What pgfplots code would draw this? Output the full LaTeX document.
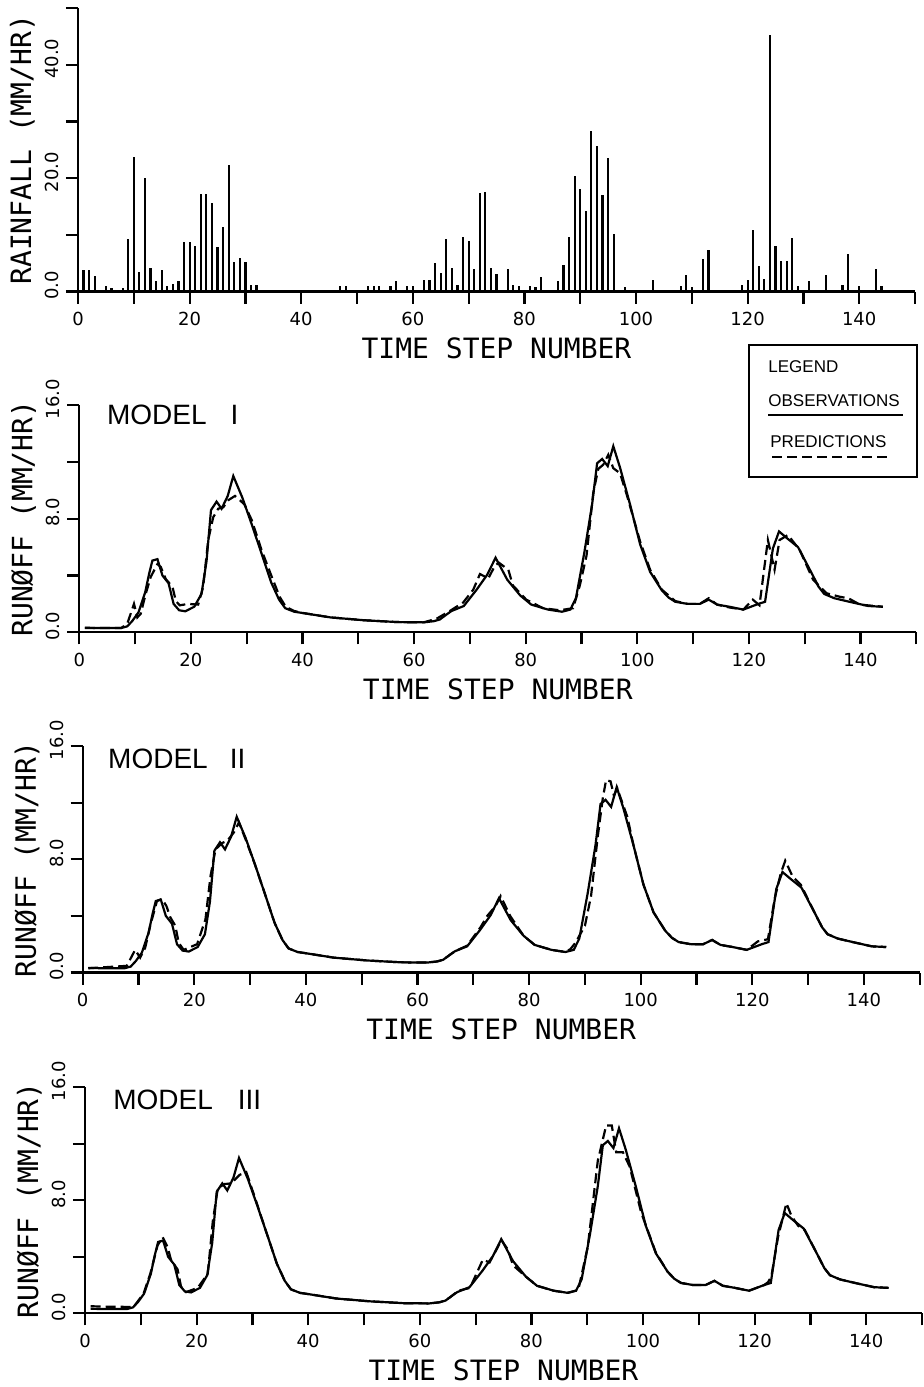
\documentclass[border=0pt]{standalone}
\usepackage{fontspec}
\setmainfont{DejaVu Sans Mono}
\newfontfamily\lab{Liberation Sans}
\newfontfamily\tickfont{DejaVu Sans}
\usepackage{pgfplots}
\usepackage{pgfplotstable}
\pgfplotsset{compat=1.18}

% rainfall, mm/hr per time step
\pgfplotstableread{
x y
1 3.8
2 3.8
3 2.8
5 1.0
6 0.6
7 0.3
8 0.6
9 9.3
10 23.7
11 3.5
12 20.0
13 4.1
14 1.9
15 3.8
16 1.0
17 1.4
18 1.9
19 8.8
20 8.8
21 8.1
22 17.2
23 17.2
24 15.6
25 7.8
26 11.4
27 22.3
28 5.2
29 5.9
30 5.2
31 1.1
32 1.2
47 1.0
48 1.0
52 1.0
53 1.0
54 1.0
56 1.0
57 1.9
59 1.0
60 1.0
62 2.0
63 2.0
64 5.1
65 3.2
66 9.2
67 4.2
68 1.2
69 9.6
70 8.9
71 4.0
72 17.4
73 17.6
74 4.1
75 3.1
77 4.0
78 1.1
79 0.9
81 0.9
82 0.8
83 2.6
86 1.9
87 4.6
88 9.6
89 20.4
90 18.1
91 14.2
92 28.3
93 25.7
94 17.1
95 23.5
96 10.2
98 0.8
103 2.0
108 1.0
109 2.9
110 0.8
112 5.7
113 7.4
119 1.2
120 2.0
121 10.8
122 4.5
123 2.2
124 45.2
125 8.1
126 5.4
127 5.4
128 9.4
129 1.0
131 1.9
134 2.9
137 1.1
138 6.6
140 1.0
143 3.9
144 1.0
}\rain

% observed runoff
\pgfplotstableread{
x y
1 0.32
4 0.3
7.5 0.3
8.6 0.42
9.5 0.8
10.6 1.4
11.8 2.8
12.5 4.1
13.1 5.05
14.0 5.15
14.9 4.0
16.0 3.45
16.9 2.0
17.9 1.55
19.0 1.48
20.6 1.8
21.9 2.7
22.8 5.0
23.6 8.6
24.6 9.2
25.5 8.7
26.6 9.6
27.6 11.0
29.2 9.5
30.9 7.6
32.7 5.5
34.4 3.5
35.8 2.3
36.9 1.7
38.5 1.45
40.2 1.35
45 1.05
51 0.85
57 0.72
61.7 0.7
63.5 0.78
64.6 0.9
65.8 1.25
66.7 1.5
68.9 1.85
71.2 3.0
73.1 4.05
74.6 5.25
76.7 3.7
79 2.6
81 1.95
84 1.6
86.5 1.45
88 1.6
89 2.4
90.5 5.6
91.9 9.0
92.8 11.9
93.7 12.2
94.7 11.7
95.7 13.1
96.9 11.6
98.7 9.0
100.5 6.2
102.3 4.25
104.4 2.95
105.6 2.45
106.8 2.15
109 2.0
111.2 2.0
112.8 2.3
114.3 1.95
116.5 1.8
119 1.6
121.7 2.0
122.9 2.15
124.3 5.9
125.4 7.1
126.9 6.6
128.8 6.0
131.2 4.2
132.5 3.2
133.5 2.7
135.3 2.4
138 2.15
141.4 1.85
144 1.8
}\obs

% model I predictions
\pgfplotstableread{
x y
1 0.3
7.5 0.3
8.6 0.6
9.8 2.0
10.4 1.05
11.0 1.3
11.9 2.7
12.8 3.9
14.0 4.8
14.6 4.6
15.5 3.75
16.7 3.2
17.3 2.2
18.0 1.9
19.5 2.0
21.3 1.95
22.2 3.2
23.1 6.5
24.0 8.1
24.9 8.7
25.8 8.8
26.7 9.3
27.9 9.6
28.5 9.4
29.6 9.0
30.9 7.9
32.7 5.75
34.5 3.9
35.9 2.5
37.0 1.8
38.5 1.5
40.2 1.35
45 1.05
51 0.85
57 0.72
61.7 0.7
64 0.95
66.4 1.5
68.8 2.1
70.6 3.0
71.8 4.1
73.3 3.8
74.5 4.7
75.2 4.9
76.9 4.4
77.7 3.3
80.1 2.3
83.1 1.7
86.1 1.55
88.5 1.7
89.7 3.3
90.9 5.4
92.1 9.8
93.0 11.5
93.9 11.8
94.8 12.5
95.7 11.55
96.9 11.2
98.1 9.7
100.5 6.4
102.3 4.4
104.4 3.0
106.8 2.2
109 2.0
111.2 2.0
112.8 2.4
114.3 1.95
116.5 1.75
119 1.6
120.7 2.3
121.9 1.9
123.4 6.5
124.6 4.4
125.5 6.5
127 6.85
129.1 5.8
131.5 3.7
133.9 2.75
136.3 2.5
137.8 2.4
139.9 1.95
144 1.8
}\predI

% model II predictions
\pgfplotstableread{
x y
1 0.3
7.9 0.47
9.4 1.6
10.3 1.05
11.2 1.75
12.1 3.3
13.3 5.05
14.2 5.2
15.0 4.7
15.7 3.9
16.6 3.3
17.2 2.1
18.1 1.6
19.0 1.75
20.5 2.0
22.0 3.75
22.9 6.8
23.8 8.7
25.0 9.15
25.9 9.3
27.1 9.9
28.0 10.6
29.2 9.4
30.9 7.6
32.7 5.5
34.4 3.5
35.8 2.3
36.9 1.7
38.5 1.45
40.2 1.35
45 1.05
51 0.85
57 0.72
61.7 0.7
63.5 0.78
64.6 0.9
65.8 1.25
66.7 1.5
68.9 1.9
71.3 3.2
72.5 4.0
74.0 4.7
74.9 5.4
76.6 4.0
79 2.6
81 1.95
84 1.6
86.5 1.45
87.4 1.65
88.3 2.1
90.0 3.3
91.1 5.4
92.3 9.6
93.2 12.3
93.8 13.6
94.6 13.5
95.2 12.5
95.8 13.0
96.7 12.0
97.6 11.0
98.7 9.0
100.5 6.2
102.3 4.25
104.4 2.95
105.6 2.45
106.8 2.15
109 2.0
111.2 2.0
112.8 2.3
114.3 1.95
116.5 1.8
119 1.6
121 2.2
122.8 2.35
124 5.2
125.1 7.0
125.9 7.9
127.2 6.8
128.7 6.2
131.2 4.2
132.5 3.2
133.5 2.7
134.5 2.55
135.3 2.4
138 2.15
141.4 1.85
144 1.8
}\predII

% model III predictions
\pgfplotstableread{
x y
1 0.5
4 0.47
8.7 0.45
10.5 1.4
11.7 2.8
13.0 4.8
13.9 5.4
14.8 4.7
15.4 3.8
16.6 3.1
17.2 1.9
18.1 1.5
20.2 1.8
22.0 2.8
22.9 6.5
23.8 8.85
25.0 9.15
26.2 9.2
27.7 9.8
28.9 10.0
30.4 8.25
32.7 5.5
34.4 3.5
35.8 2.3
36.9 1.7
38.5 1.45
40.2 1.35
45 1.05
51 0.85
57 0.72
61.7 0.7
63.5 0.78
64.6 0.9
65.8 1.25
66.9 1.6
69 1.8
71.3 3.8
72.5 3.6
74.0 4.7
74.6 5.2
75.8 4.5
76.7 3.4
79 2.6
81 1.95
84 1.6
86.5 1.45
88.4 1.65
90.1 4.7
91.9 10.8
93.4 13.3
94.4 13.3
95.2 11.4
96.4 11.4
97.6 10.4
99.7 7.1
102.3 4.3
104.4 2.95
105.6 2.45
106.8 2.15
109 2.0
111.2 2.0
112.8 2.3
114.3 1.95
116.5 1.8
119 1.6
121.7 2.0
122.4 2.2
123.0 2.6
124.2 5.4
125.7 7.8
126.6 6.9
127.8 6.2
129 5.9
131.2 4.2
132.5 3.2
133.5 2.7
135.3 2.4
138 2.15
141.4 1.85
144 1.8
}\predIII

\pgfplotsset{
  panel/.style={
    scale only axis, width=418.5pt, anchor=south west,
    xmin=0, xmax=150,
    axis x line*=bottom, axis y line*=left,
    axis line style={-, line width=1.1pt},
    tick align=outside, major tick length=6pt,
    every tick/.style={black, line width=1.1pt},
    xtick={0,10,...,150},
    xticklabels={0,,20,,40,,60,,80,,100,,120,,140,},
    ticklabel style={font=\tickfont\fontsize{9}{10}\selectfont},
    xticklabel style={yshift=-1pt},
    yticklabel style={rotate=90, anchor=south, xshift=3pt},
    xlabel={TIME STEP NUMBER},
    label style={font=\fontsize{14}{16}\selectfont},
    xlabel style={at={(axis description cs:0.5,0)}, anchor=center, yshift=-28.5pt},
    ylabel style={at={(axis description cs:-0.0665,0.5)}, anchor=center},
    clip=false,
  },
  runoff/.style={panel, ymin=0, ymax=16,
    ytick={0,4,...,16}, yticklabels={0.0,,8.0,,16.0},
    ylabel={RUNØFF (MM/HR)}},
  obsline/.style={black, line width=1.1pt},
  predline/.style={black, line width=1.1pt, dash pattern=on 5pt off 2.5pt},
}

\begin{document}
\begin{tikzpicture}
\path[use as bounding box] (0,0) rectangle (462pt,-693.5pt);

\begin{axis}[panel, at={(39pt,-145.75pt)}, height=141.75pt,
  ymin=0, ymax=50, ytick={0,10,...,50}, yticklabels={0.0,,20.0,,40.0,},
  ylabel={RAINFALL (MM/HR)}]
\addplot[ycomb, black, line width=1.1pt] table {\rain};
\end{axis}

\begin{axis}[runoff, at={(39.65pt,-316.15pt)}, height=113.65pt]
\addplot[obsline] table {\obs};
\addplot[predline] table {\predI};
\node[anchor=base west, inner sep=0, font=\lab\fontsize{14}{16}\selectfont] at (axis cs:4.9,14.6) {MODEL\hspace{12pt}I};
\end{axis}

\begin{axis}[runoff, at={(41.35pt,-486.25pt)}, height=113.25pt]
\addplot[obsline] table {\obs};
\addplot[predline] table {\predII};
\node[anchor=base west, inner sep=0, font=\lab\fontsize{14}{16}\selectfont] at (axis cs:4.5,14.4) {MODEL\hspace{11pt}II};
\end{axis}

\begin{axis}[runoff, at={(42.5pt,-656.65pt)}, height=113pt]
\addplot[obsline] table {\obs};
\addplot[predline] table {\predIII};
\node[anchor=base west, inner sep=0, font=\lab\fontsize{14}{16}\selectfont] at (axis cs:5.0,14.45) {MODEL\hspace{12.5pt}III};
\end{axis}

% legend box, pixel coordinates of the reference
\begin{scope}[x=0.5pt, y=-0.5pt]
\draw[line width=1pt] (749,345) rectangle (917,477);
\begin{scope}[every node/.style={anchor=base west, inner sep=0, font=\lab\fontsize{8.5}{10}\selectfont}]
\node at (768,372) {LEGEND};
\node at (768,406) {OBSERVATIONS};
\node at (770,447) {PREDICTIONS};
\end{scope}
\draw[line width=1.1pt] (768,415) -- (903,415);
\draw[line width=1.1pt, dash pattern=on 5pt off 2.5pt] (772,457) -- (888,457);
\end{scope}
\end{tikzpicture}
\end{document}
